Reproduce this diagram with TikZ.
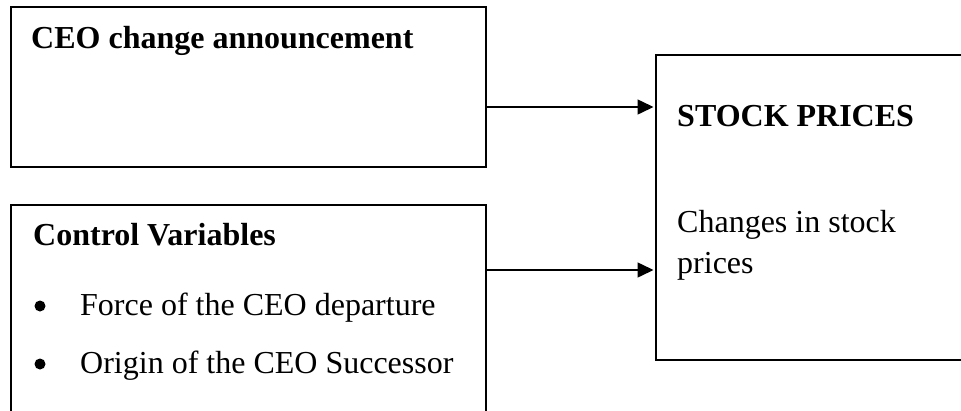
\documentclass[tikz,border=0pt]{standalone}
\usepackage{fontspec}
\setmainfont{Liberation Serif}
\usetikzlibrary{arrows.meta}
\begin{document}
\begin{tikzpicture}[x=1pt,y=-1pt,
  box/.style={draw=black,line width=1.8pt,rectangle,inner sep=0pt,anchor=north west},
  lbl/.style={anchor=base west,inner sep=0pt,font=\fontsize{32}{41}\selectfont},
  hd/.style={lbl,font=\fontsize{32}{41}\selectfont\bfseries},
  dot/.style={circle,fill=black,inner sep=0pt,minimum size=11pt},
  arr/.style={line width=1.5pt,-{Triangle[length=16pt,width=15pt]},shorten >=1.5pt}]
\useasboundingbox (0,0) rectangle (961,410);
% boxes
\node[box,minimum width=475pt,minimum height=160pt] (ceo) at (10,6) {};
\node[box,minimum width=475pt,minimum height=260pt] (ctrl) at (10,204) {};
\node[box,minimum width=360pt,minimum height=305pt] (stock) at (655,54) {};
% texts
\node[hd] (t1) at (31,48) {CEO change announcement};
\node[hd] (t2) at (33,245) {Control Variables};
\node[dot] (b1) at (40,306) {};
\node[lbl] (t3) at (80,315) {Force of the CEO departure};
\node[dot] (b2) at (40,364) {};
\node[lbl] (t4) at (80,373) {Origin of the CEO Successor};
\node[hd] (t5) at (677,126) {STOCK PRICES};
\node[lbl] (t6) at (677,232) {Changes in stock};
\node[lbl] (t7) at (677,273) {prices};
% connectors
\coordinate (y1) at (0,107);
\coordinate (y2) at (0,270);
\draw[arr] (ceo.east |- y1) -- (stock.west |- y1);
\draw[arr] (ctrl.east |- y2) -- (stock.west |- y2);
\end{tikzpicture}
\end{document}
